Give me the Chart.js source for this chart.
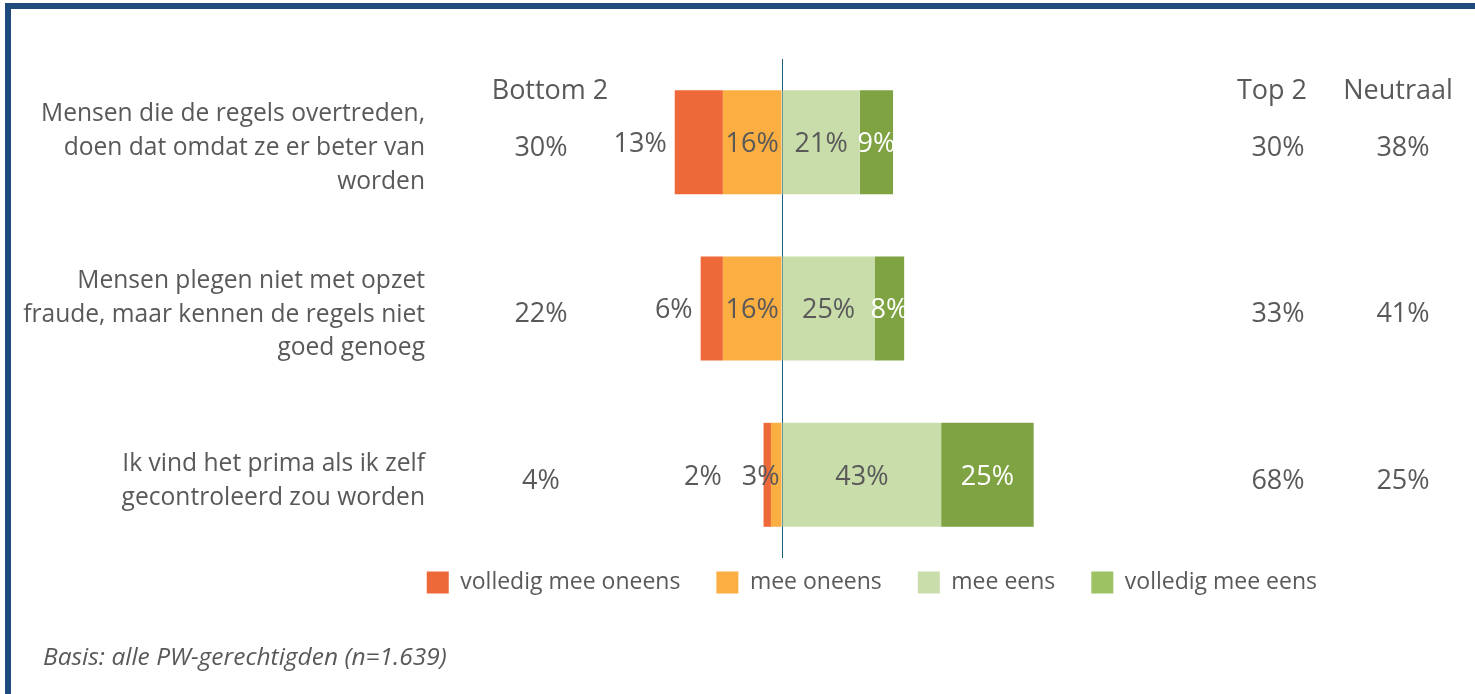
<!DOCTYPE html>
<html>
<head>
<meta charset="utf-8">
<script src="https://cdn.jsdelivr.net/npm/chart.js@4.4.1/dist/chart.umd.min.js"></script>
<style>
  html, body { margin: 0; padding: 0; background: #ffffff; }
  #wrap { position: relative; width: 1475px; height: 694px; overflow: hidden; }
  #frame { position: absolute; left: 5px; top: 3px; width: 1520px; height: 740px;
           border-left: 6px solid #1F4A7C; border-top: 6px solid #1F4A7C; }
  #c { position: absolute; left: 0; top: 0; }
</style>
</head>
<body>
<div id="wrap">
  <div id="frame"></div>
  <canvas id="c" width="1475" height="694"></canvas>
</div>
<script>
// Statements (multi-line category labels)
const statements = [
  ['Mensen die de regels overtreden,', 'doen dat omdat ze er beter van', 'worden'],
  ['Mensen plegen niet met opzet', 'fraude, maar kennen de regels niet', 'goed genoeg'],
  ['Ik vind het prima als ik zelf', 'gecontroleerd zou worden']
];

// Answer shares per statement, in percent
const fullyDisagree = [13, 6, 2];
const disagree      = [16, 16, 3];
const agree         = [21, 25, 43];
const fullyAgree    = [9, 8, 25];

// Summary columns
const bottom2 = [30, 22, 4];
const top2    = [30, 33, 68];
const neutral = [38, 41, 25];

const seriesNames  = ['volledig mee oneens', 'mee oneens', 'mee eens', 'volledig mee eens'];
const seriesColors = ['#EE6939', '#FBAE41', '#C9DDAB', '#7FA342'];
const legendColors = ['#EE6939', '#FBAE41', '#C9DDAB', '#9DC264'];
const summaryHeaders = ['Bottom 2', 'Top 2', 'Neutraal'];

const TEXT = '#595959';
const FONT = '"Open Sans", "DejaVu Sans", sans-serif';
const NUM_FONT = '27px ' + FONT;

// Diverging layout: disagreement grows leftwards from 0, agreement rightwards
const floating = {
  fullyDisagree: fullyDisagree.map((v, i) => [-(disagree[i] + v), -disagree[i]]),
  disagree: disagree.map(v => [-v, 0]),
  agree: agree.map(v => [0, v]),
  fullyAgree: fullyAgree.map((v, i) => [agree[i], agree[i] + v])
};
const seriesValues = [fullyDisagree, disagree, agree, fullyAgree];
const seriesBars = [floating.fullyDisagree, floating.disagree, floating.agree, floating.fullyAgree];

// Percent labels on the bars
const barLabels = {
  id: 'barLabels',
  afterDatasetsDraw(chart) {
    const ctx = chart.ctx;
    ctx.save();
    ctx.font = NUM_FONT;
    ctx.textBaseline = 'middle';
    const metas = [0, 1, 2, 3].map(i => chart.getDatasetMeta(i));
    statements.forEach((_, row) => {
      let innerLeft = Infinity;
      for (let d = 1; d < 4; d++) {
        const el = metas[d].data[row];
        const l = Math.min(el.x, el.base), r = Math.max(el.x, el.base);
        const text = seriesValues[d][row] + '%';
        const w = ctx.measureText(text).width;
        let cx = (l + r) / 2;
        if (d === 1 && w > r - l) cx = r - w / 2 - 2;
        if (d === 1) innerLeft = cx - w / 2;
        ctx.textAlign = 'center';
        ctx.fillStyle = d === 3 ? '#ffffff' : TEXT;
        ctx.fillText(text, cx, el.y + 2);
      }
      const el = metas[0].data[row];
      const l = Math.min(el.x, el.base);
      const edge = Math.min(l - 8, innerLeft - 20);
      ctx.textAlign = 'right';
      ctx.fillStyle = TEXT;
      ctx.fillText(seriesValues[0][row] + '%', edge, el.y + 2);
    });
    ctx.restore();
  }
};

// Bottom 2 / Top 2 / Neutraal columns and the footnote
const summaryColumns = {
  id: 'summaryColumns',
  afterDraw(chart) {
    const ctx = chart.ctx;
    const y = chart.scales.y;
    const cols = [
      { head: 550, val: 541, data: bottom2 },
      { head: 1272, val: 1278, data: top2 },
      { head: 1398, val: 1403, data: neutral }
    ];
    ctx.save();
    ctx.fillStyle = TEXT;
    ctx.textAlign = 'center';
    ctx.textBaseline = 'middle';
    ctx.font = NUM_FONT;
    cols.forEach((c, k) => {
      ctx.fillText(summaryHeaders[k], c.head, 91);
      c.data.forEach((v, i) => ctx.fillText(v + '%', c.val, y.getPixelForValue(i) + 6));
    });
    ctx.textAlign = 'left';
    ctx.font = 'italic 24.5px ' + FONT;
    ctx.fillText('Basis: alle PW-gerechtigden (n=1.639)', 43, 658);
    ctx.restore();
  }
};

// Pull the legend up closer to the bars
const legendNudge = {
  id: 'legendNudge',
  afterLayout(chart) {
    const lg = chart.legend;
    if (lg) { lg.top -= 23; lg.bottom -= 23; }
  }
};

new Chart(document.getElementById('c'), {
  type: 'bar',
  data: {
    labels: statements,
    datasets: seriesNames.map((name, i) => ({
      label: name,
      data: seriesBars[i],
      backgroundColor: seriesColors[i],
      borderWidth: 0,
      grouped: false,
      categoryPercentage: 1,
      barPercentage: 0.625
    }))
  },
  options: {
    indexAxis: 'y',
    responsive: false,
    animation: false,
    devicePixelRatio: 1,
    layout: { autoPadding: false, padding: { left: 10, right: 122, top: 59, bottom: 67 } },
    scales: {
      x: {
        min: -94.6, max: 154.3,
        z: 1,
        ticks: { display: false, stepSize: 10 },
        grid: {
          drawTicks: false,
          lineWidth: 1,
          color: c => (c.tick && c.tick.value === 0) ? '#1B5E80' : 'rgba(0,0,0,0)'
        },
        border: { display: false }
      },
      y: {
        grid: { display: false, drawTicks: false },
        border: { display: false },
        ticks: {
          color: TEXT,
          font: { family: FONT, size: 24.6, lineHeight: 1.38 },
          padding: 7,
          labelOffset: 6
        },
        afterFit(scale) { scale.width = 422; }
      }
    },
    plugins: {
      tooltip: { enabled: false },
      legend: {
        position: 'bottom',
        align: 'end',
        labels: {
          color: TEXT,
          font: { family: FONT, size: 23 },
          boxWidth: 22,
          boxHeight: 22,
          padding: 36,
          generateLabels(chart) {
            return chart.data.datasets.map((ds, i) => ({
              text: ds.label,
              fillStyle: legendColors[i],
              strokeStyle: legendColors[i],
              lineWidth: 0,
              fontColor: TEXT,
              hidden: false,
              datasetIndex: i
            }));
          }
        }
      }
    }
  },
  plugins: [barLabels, summaryColumns, legendNudge]
});
</script>
</body>
</html>
